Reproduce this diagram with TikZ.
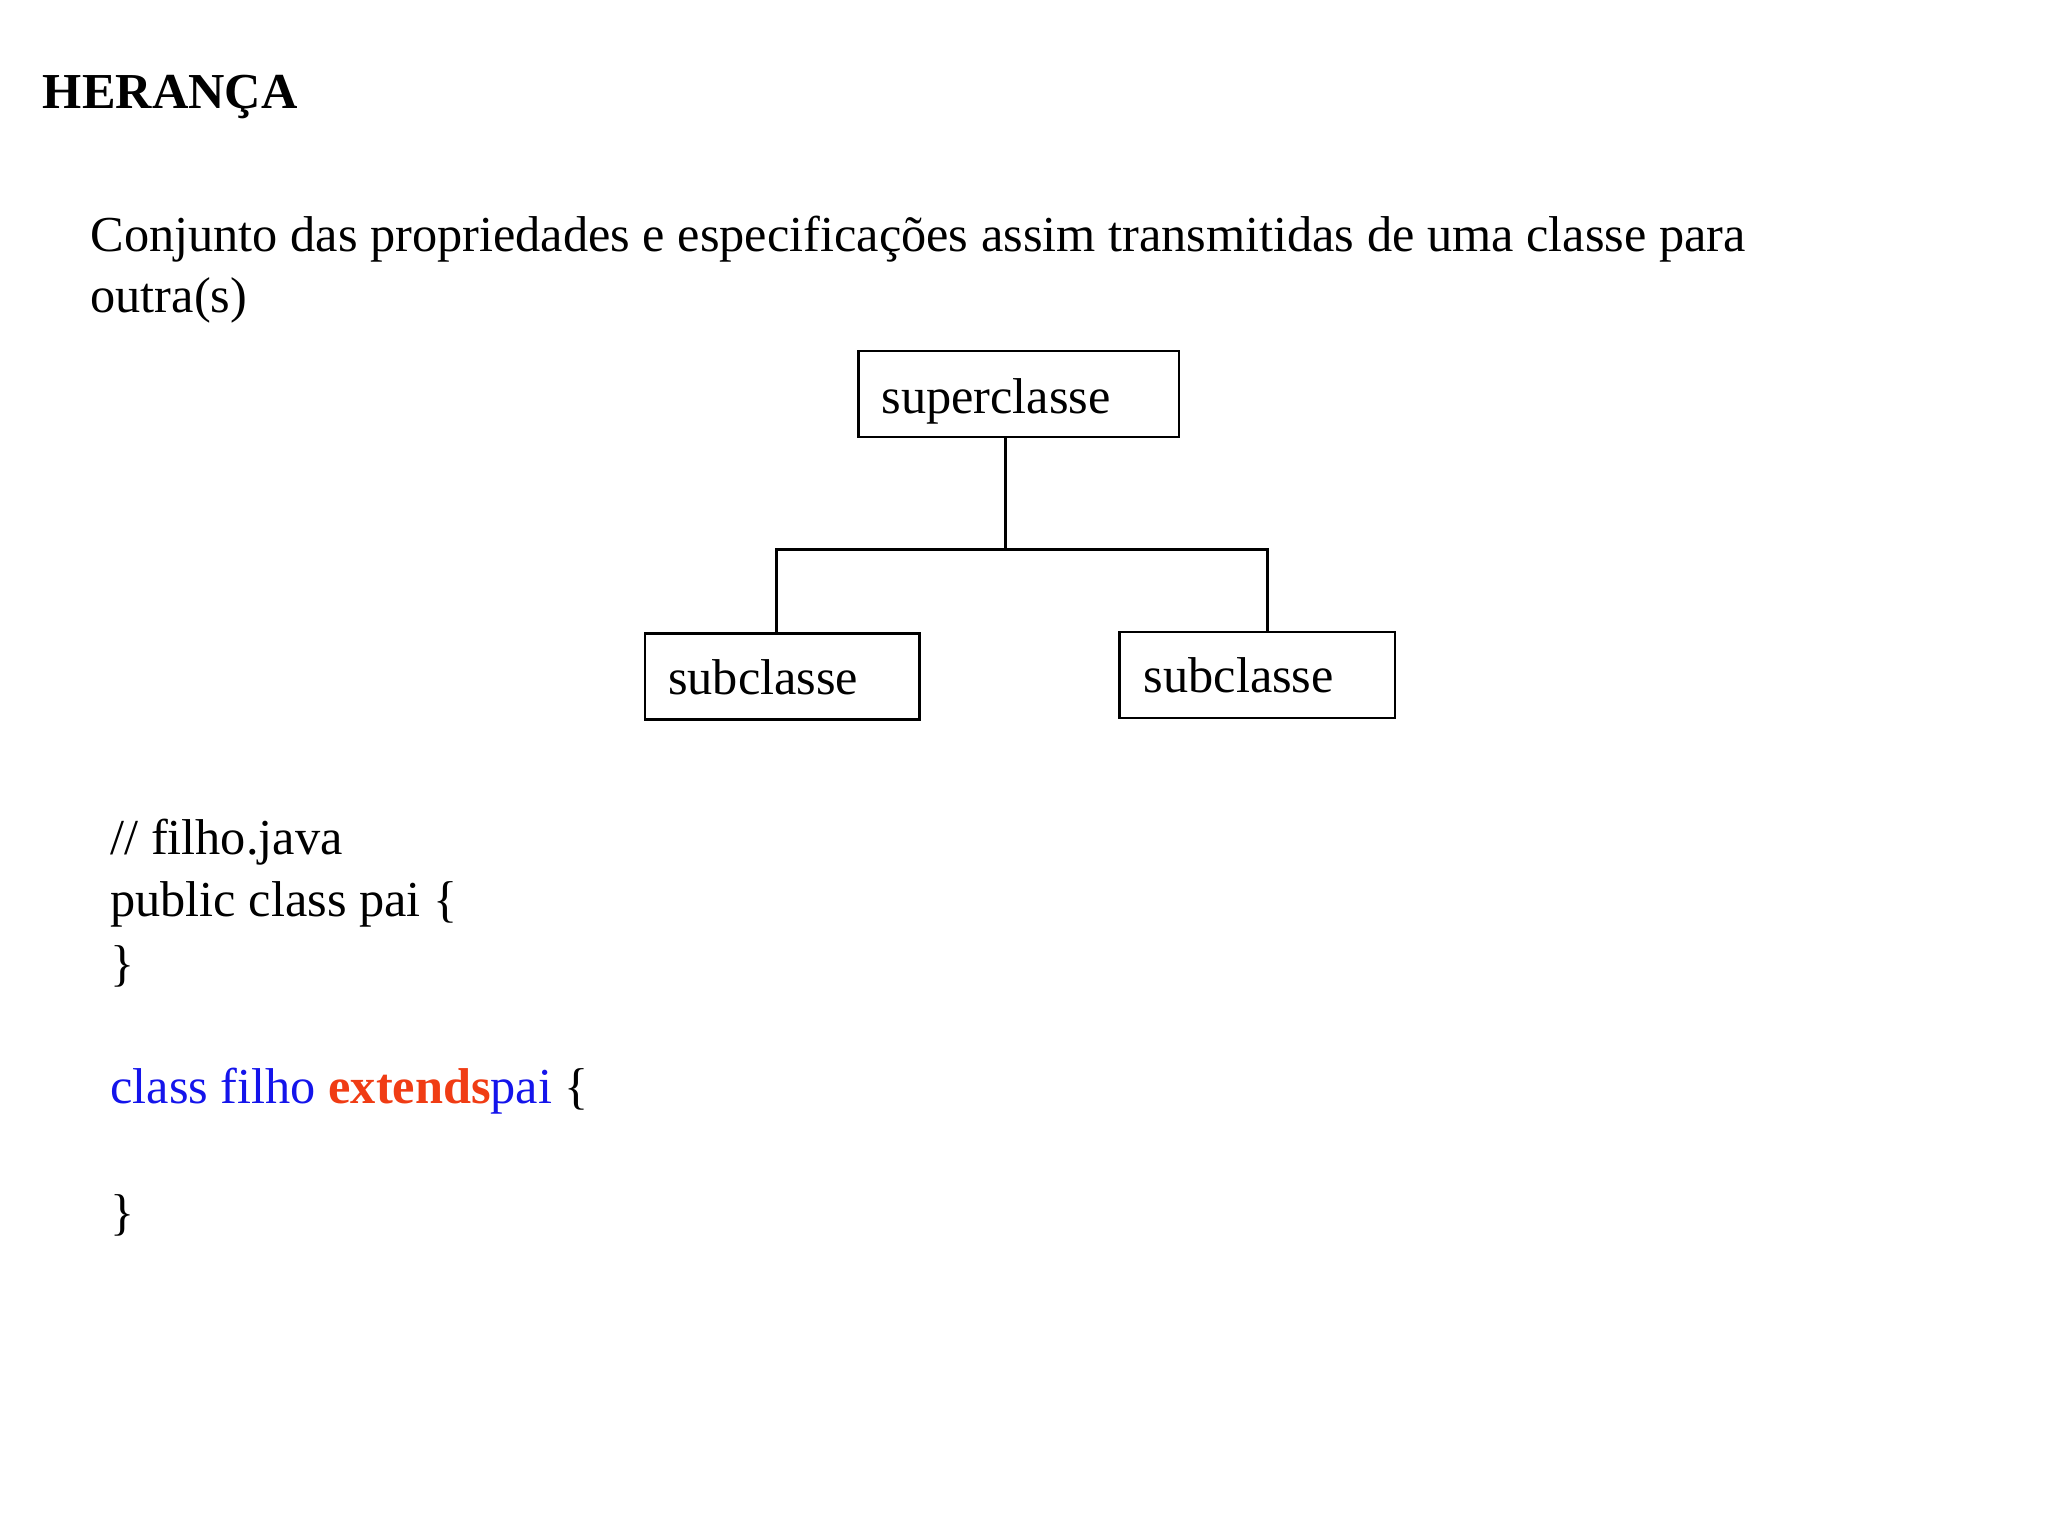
\documentclass[tikz,border=0pt]{standalone}
\usepackage{fontspec}
\setmainfont{Liberation Serif}
\begin{document}
\begin{tikzpicture}[x=0.5pt,y=-0.5pt,
  txt/.style={anchor=base west,inner sep=0pt,font=\fontsize{19}{22}\selectfont},
  cls/.style={draw,line width=1pt,minimum width=0pt,inner sep=0pt}]
\useasboundingbox (0,0) rectangle (1546,1160);
\node[txt,font=\fontsize{19}{22}\selectfont\bfseries] (t) at (32,82) {HERANÇA};
\node[txt] (d1) at (68,190) {Conjunto das propriedades e especificações assim transmitidas de uma classe para};
\node[txt] (d2) at (68,236) {outra(s)};
\draw[line width=1pt] (648,265) rectangle (890,330);
\draw[line width=1pt] (487,478) rectangle (694,543);
\draw[line width=1pt] (845,477) rectangle (1053,542);
\node[txt] (s) at (665,312) {superclasse};
\node[txt] (a) at (504,524) {subclasse};
\node[txt] (b) at (863,523) {subclasse};
\coordinate (top) at (759,330);
\coordinate (j) at (759,415);
\coordinate (l) at (586,415);
\coordinate (r) at (957,415);
\coordinate (lb) at (586,478);
\coordinate (rb) at (957,477);
\draw[line width=1pt] (top) -- (j);
\draw[line width=1pt] (lb) -- (l) -- (r) -- (rb);
\node[txt] (c1) at (83,645) {// filho.java};
\node[txt] (c2) at (83,692) {public class pai \{};
\node[txt] (c3) at (83,740) {\}};
\node[txt] (c4) at (83,833) {\textcolor[RGB]{20,20,235}{class filho }\textcolor[RGB]{240,60,20}{\bfseries extends}\textcolor[RGB]{20,20,235}{ pai} \{};
\node[txt] (c5) at (83,928) {\}};
\end{tikzpicture}
\end{document}
